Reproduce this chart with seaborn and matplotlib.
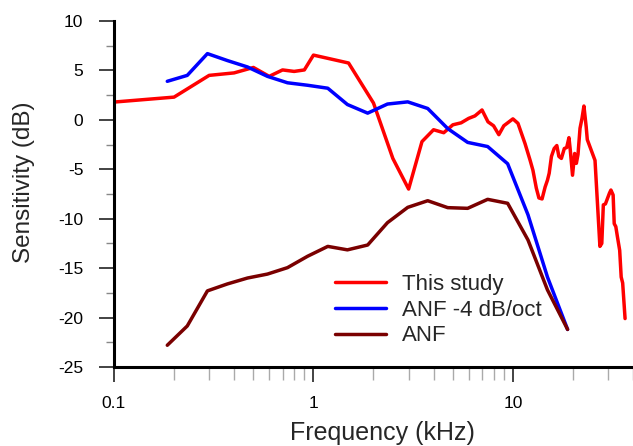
import matplotlib
matplotlib.use("Agg")
import matplotlib.pyplot as plt
import seaborn as sns
import pandas as pd
from matplotlib.ticker import LogLocator, MultipleLocator, FixedLocator, NullFormatter, FixedFormatter

# ---- data ----
study_freq = [0.1, 0.2, 0.3, 0.4, 0.5, 0.6, 0.7, 0.8, 0.9, 1.0, 1.5, 2.0, 2.5, 3.0, 3.5, 4.0,
              4.5, 5.0, 5.5, 6.0, 6.45, 7.0, 7.5, 8.0, 8.5, 9.0, 10.0, 10.6, 11.5, 12.2, 12.6,
              13.1, 13.5, 14.0, 14.5, 14.9, 15.2, 15.6, 16.1, 16.6, 17.0, 17.5, 18.1, 18.6,
              19.1, 19.4, 19.9, 20.4, 20.8, 21.2, 21.7, 22.2, 22.7, 23.3, 23.6, 25.8, 27.3,
              27.9, 28.4, 29.1, 30.5, 31.0, 31.8, 32.2, 32.8, 33.4, 34.3, 34.9, 35.5, 36.5]
study_db = [1.8, 2.3, 4.5, 4.75, 5.3, 4.4, 5.05, 4.9, 5.05, 6.55, 5.75, 1.7, -3.9, -7.0, -2.2, -1.0,
            -1.3, -0.5, -0.3, 0.15, 0.4, 1.0, -0.2, -0.6, -1.5, -0.6, 0.1, -0.35, -2.4, -4.1, -5.1,
            -6.9, -7.9, -8.0, -6.8, -6.1, -5.4, -3.7, -2.9, -2.6, -3.7, -3.9, -2.9, -2.8,
            -1.8, -3.1, -5.6, -3.4, -4.4, -3.5, -0.85, 0.15, 1.4, -0.7, -2.0, -4.1, -12.8,
            -12.5, -8.6, -8.5, -7.4, -7.1, -7.6, -10.5, -10.8, -11.8, -13.2, -15.9, -16.5, -20.1]

anf_freq = [0.185, 0.233, 0.294, 0.37, 0.467, 0.588, 0.741, 0.934, 1.18, 1.48, 1.87,
            2.35, 2.97, 3.74, 4.71, 5.93, 7.47, 9.41, 11.9, 14.9, 18.8]
anf_db = [-22.8, -20.85, -17.3, -16.6, -16.0, -15.6, -14.95, -13.8, -12.8, -13.15, -12.66,
          -10.4, -8.85, -8.18, -8.88, -8.95, -8.04, -8.44, -12.15, -17.2, -21.2]
anf4_db = [3.9, 4.5, 6.7, 6.0, 5.35, 4.4, 3.75, 3.5, 3.2, 1.55, 0.68,
           1.6, 1.82, 1.15, -0.88, -2.28, -2.7, -4.44, -9.6, -15.9, -21.2]

series_names = ["This study", "ANF -4 dB/oct", "ANF"]
series_colors = ["#ff0000", "#0000ff", "#7a0000"]

xtick_vals = [0.1, 1, 10]
xtick_labels = ["0.1", "1", "10"]
ytick_vals = [10, 5, 0, -5, -10, -15, -20, -25]

df = pd.concat([
    pd.DataFrame({"f": study_freq, "db": study_db, "s": series_names[0]}),
    pd.DataFrame({"f": anf_freq, "db": anf4_db, "s": series_names[1]}),
    pd.DataFrame({"f": anf_freq, "db": anf_db, "s": series_names[2]}),
], ignore_index=True)

sns.set_style("white")
plt.rcParams["font.family"] = ["Liberation Sans", "DejaVu Sans"]
plt.rcParams["axes.unicode_minus"] = False

fig = plt.figure(figsize=(6.33, 4.46), dpi=100)
ax = fig.add_axes([114 / 633, 79 / 446, (633 - 114) / 633, (367 - 21) / 446])

sns.lineplot(data=df, x="f", y="db", hue="s", hue_order=series_names,
             palette=dict(zip(series_names, series_colors)), sort=False,
             estimator=None, linewidth=2.5, ax=ax)

ax.set_xscale("log")
ax.set_xlim(0.1, 40)
ax.set_ylim(-25, 10)

ax.xaxis.set_major_locator(FixedLocator(xtick_vals))
ax.xaxis.set_major_formatter(FixedFormatter(xtick_labels))
ax.xaxis.set_minor_locator(LogLocator(base=10, subs=[2, 3, 4, 5, 6, 7, 8, 9], numticks=20))
ax.xaxis.set_minor_formatter(NullFormatter())
ax.yaxis.set_major_locator(FixedLocator(ytick_vals))
ax.yaxis.set_minor_locator(MultipleLocator(2.5))

for s in ["top", "right"]:
    ax.spines[s].set_visible(False)
for s in ["left", "bottom"]:
    ax.spines[s].set_linewidth(2.2)
    ax.spines[s].set_color("black")

ax.tick_params(axis="both", which="major", direction="out", length=11, width=1.2,
               color="#222222", labelsize=12.5, labelcolor="black")
ax.tick_params(axis="y", which="major", pad=11)
ax.tick_params(axis="x", which="major", pad=10)
ax.tick_params(axis="y", which="minor", direction="out", length=6, width=1.0, color="#888888")
ax.tick_params(axis="x", which="minor", direction="out", length=9.5, width=1.0, color="#aaaaaa")
ax.tick_params(left=True, bottom=True, which="both")

ax.set_xlabel("Frequency (kHz)", fontsize=18)
ax.set_ylabel("Sensitivity (dB)", fontsize=17.5)
ax.xaxis.set_label_coords(0.518, -0.157)
ax.yaxis.set_label_coords(-0.152, 0.535)

leg = ax.legend(loc="center left", bbox_to_anchor=(335 / 633, 1 - 310 / 446),
                bbox_transform=fig.transFigure, frameon=False, fontsize=16,
                handlelength=2.3, handletextpad=0.7, labelspacing=0.22,
                borderpad=0, borderaxespad=0)
for line in leg.get_lines():
    line.set_linewidth(2.5)

fig.savefig("out.png", dpi=100)
